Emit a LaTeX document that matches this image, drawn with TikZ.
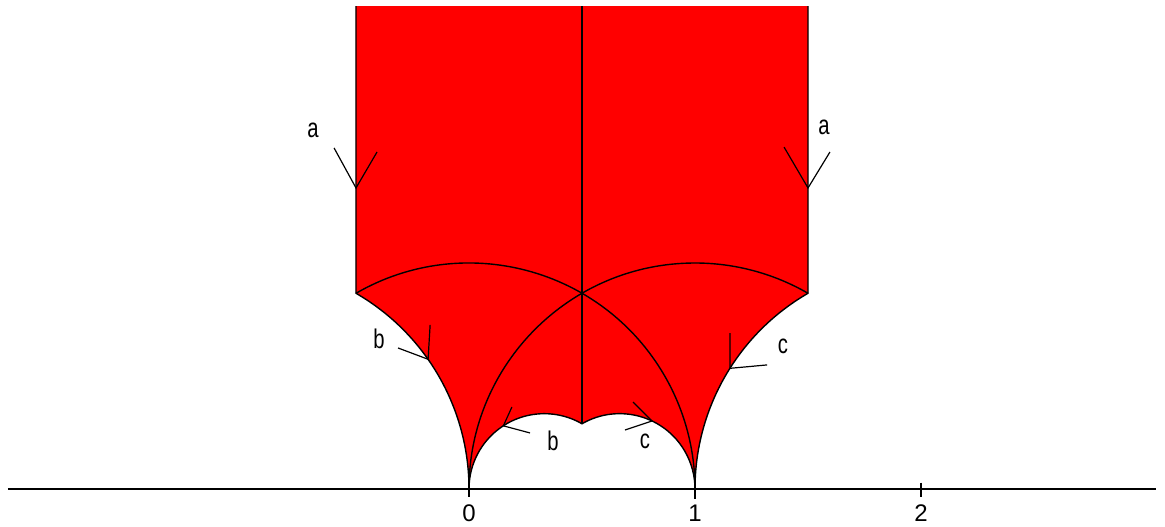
\documentclass[tikz,border=0pt]{standalone}
\usepackage{fontspec}
\setmainfont{Liberation Sans}
\usepackage{graphicx}
\begin{document}
\begin{tikzpicture}[x=226pt,y=226pt,
  edge/.style={line width=1.4pt, black},
  tickmark/.style={line width=1.2pt, black},
  lbl/.style={inner sep=0pt, font=\fontsize{27}{27}\selectfont},
  num/.style={inner sep=0pt, font=\fontsize{24}{24}\selectfont}]
\useasboundingbox (-2.0752,-0.1681) rectangle (3.0796,2.1637);
% key points
\coordinate (LT) at (-0.5,2.137);
\coordinate (MT) at (0.5,2.137);
\coordinate (RT) at (1.5,2.137);
\coordinate (L) at (-0.5,0.8660);
\coordinate (M) at (0.5,0.8660);
\coordinate (R) at (1.5,0.8660);
\coordinate (O) at (0,0);
\coordinate (I) at (1,0);
\coordinate (C) at (0.5,0.2887);
% region
\fill[red] (LT) -- (L) arc[start angle=60,end angle=0,radius=1]
  arc[start angle=180,end angle=60,radius=0.33333]
  arc[start angle=120,end angle=0,radius=0.33333]
  arc[start angle=180,end angle=120,radius=1] -- (RT) -- cycle;
% boundary and interior lines
\draw[edge] (LT) -- (L) arc[start angle=60,end angle=0,radius=1];
\draw[edge] (O) arc[start angle=180,end angle=60,radius=0.33333]
  arc[start angle=120,end angle=0,radius=0.33333];
\draw[edge] (I) arc[start angle=180,end angle=120,radius=1] -- (RT);
\draw[edge] (MT) -- (C);
\draw[edge] (L) arc[start angle=120,end angle=0,radius=1];
\draw[edge] (O) arc[start angle=180,end angle=60,radius=1];
% axis
\coordinate (AL) at (-2.04,0);
\coordinate (AR) at (3.04,0);
\draw[edge] (AL) -- (AR);
\coordinate (t0a) at (0,0.03); \coordinate (t0b) at (0,-0.035);
\coordinate (t1a) at (1,0.045); \coordinate (t1b) at (1,-0.045);
\coordinate (t2a) at (2,0.028); \coordinate (t2b) at (2,-0.035);
\draw[edge] (t0a) -- (t0b);
\draw[line width=2.4pt] (t1a) -- (t1b);
\draw[edge] (t2a) -- (t2b);
\node[num] (n0) at (0,-0.106) {0};
\node[num] (n1) at (1,-0.106) {1};
\node[num] (n2) at (2,-0.106) {2};
% a marks
\coordinate (aL) at (-0.5,1.332);
\coordinate (aL1) at (-0.597,1.509);
\coordinate (aL2) at (-0.407,1.491);
\draw[tickmark] (aL1) -- (aL) -- (aL2);
\node[lbl] (la) at (-0.690,1.585) {\scalebox{0.75}[1]{a}};
\coordinate (aR) at (1.5,1.332);
\coordinate (aR1) at (1.394,1.513);
\coordinate (aR2) at (1.597,1.491);
\draw[tickmark] (aR1) -- (aR) -- (aR2);
\node[lbl] (ra) at (1.571,1.600) {\scalebox{0.75}[1]{a}};
% b marks
\coordinate (bL) at (-0.181,0.574);
\coordinate (bL1) at (-0.172,0.726);
\coordinate (bL2) at (-0.314,0.624);
\draw[tickmark] (bL1) -- (bL) -- (bL2);
\node[lbl] (lb) at (-0.398,0.664) {\scalebox{0.75}[1]{b}};
\coordinate (bB) at (0.152,0.2795);
\coordinate (bB1) at (0.190,0.363);
\coordinate (bB2) at (0.270,0.248);
\draw[tickmark] (bB1) -- (bB) -- (bB2);
\node[lbl] (bb) at (0.372,0.215) {\scalebox{0.75}[1]{b}};
% c marks
\coordinate (cB) at (0.810,0.301);
\coordinate (cB1) at (0.726,0.385);
\coordinate (cB2) at (0.690,0.261);
\draw[tickmark] (cB1) -- (cB) -- (cB2);
\node[lbl] (bc) at (0.779,0.212) {\scalebox{0.75}[1]{c}};
\coordinate (cR) at (1.155,0.534);
\coordinate (cR1) at (1.155,0.690);
\coordinate (cR2) at (1.319,0.549);
\draw[tickmark] (cR1) -- (cR) -- (cR2);
\node[lbl] (rc) at (1.389,0.633) {\scalebox{0.75}[1]{c}};
\end{tikzpicture}
\end{document}
